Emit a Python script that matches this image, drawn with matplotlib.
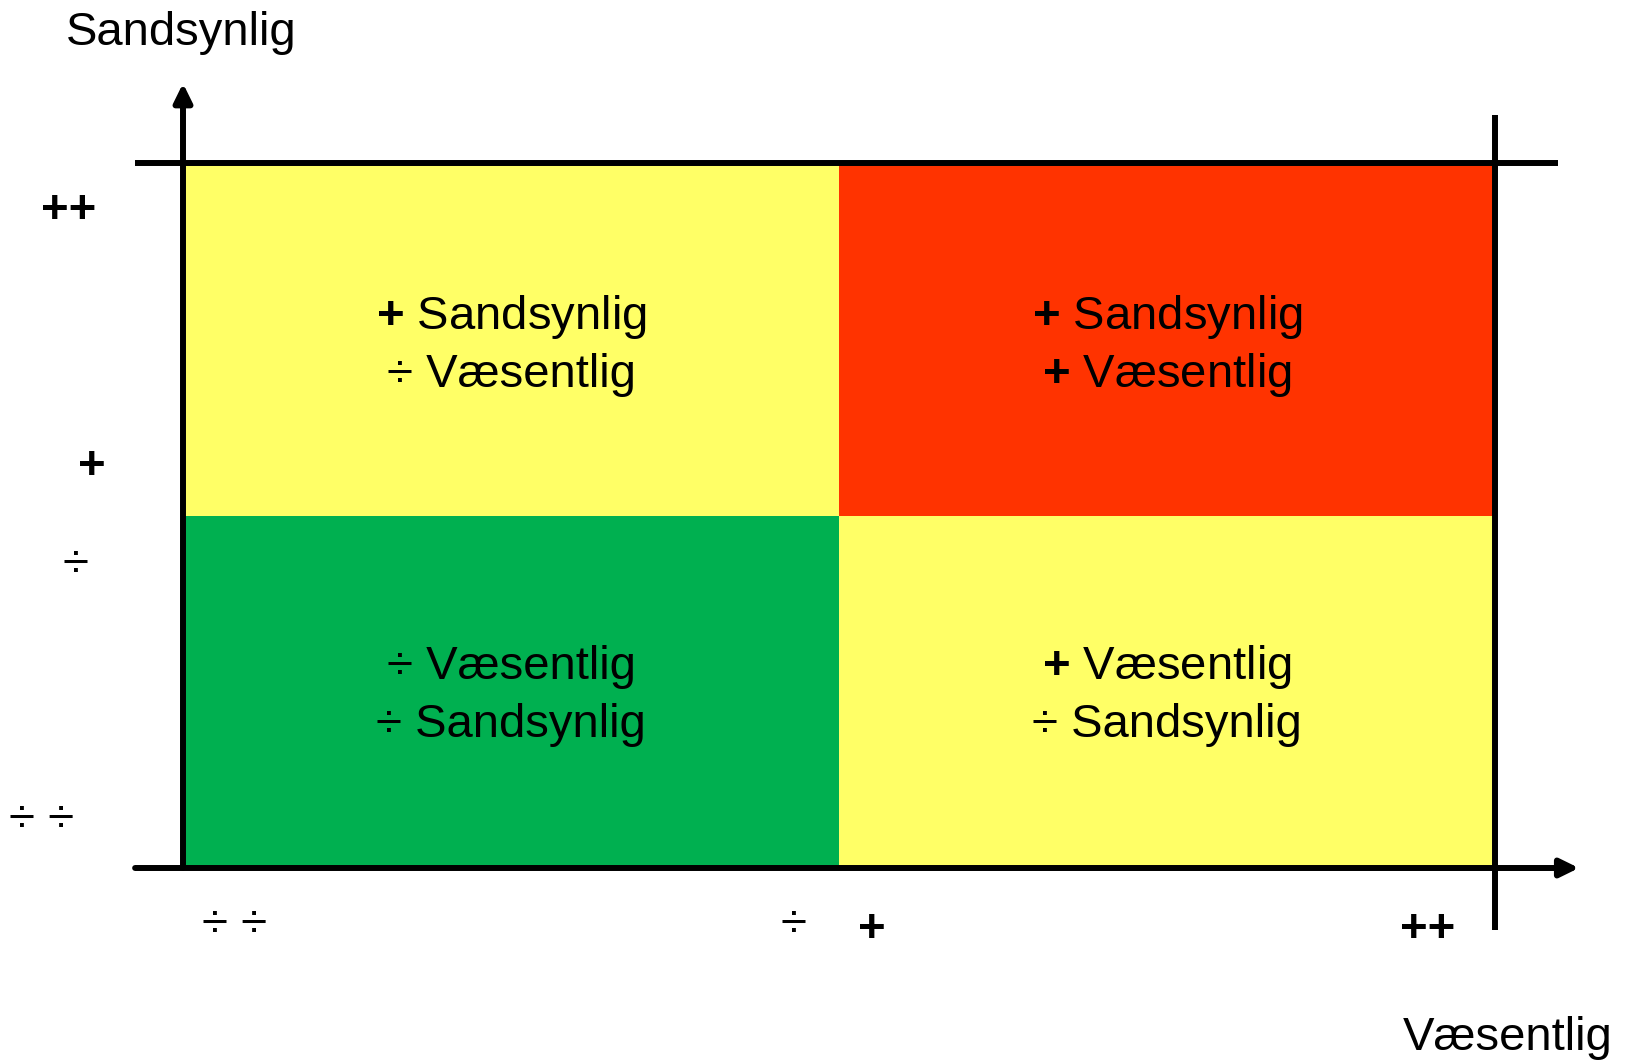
import matplotlib.pyplot as plt
from matplotlib.patches import Rectangle

plt.rcParams['font.family'] = ['Liberation Sans', 'DejaVu Sans']
plt.rcParams['mathtext.fontset'] = 'custom'
plt.rcParams['mathtext.rm'] = 'Liberation Sans'
plt.rcParams['mathtext.bf'] = 'Liberation Sans:bold'

# kvadranter: raekke 0 = lav sandsynlighed, kolonne 0 = lav vaesentlighed
quad_colors = [['#00B050', '#FFFF66'],
               ['#FFFF66', '#FF3300']]
quad_labels = [[('÷ Væsentlig', '÷ Sandsynlig'), ('+ Væsentlig', '÷ Sandsynlig')],
               [('+ Sandsynlig', '÷ Væsentlig'), ('+ Sandsynlig', '+ Væsentlig')]]

# skala-markeringer langs akserne (tekst, x, y)
y_marks = [('++', -0.174, 1.830), ('+', -0.139, 1.104),
           ('÷', -0.164, 0.826), ('÷ ÷', -0.215, 0.102)]
x_marks = [('÷ ÷', 0.079, -0.196), ('÷', 0.931, -0.196),
           ('+', 1.050, -0.210), ('++', 1.898, -0.210)]


def fmt(label):
    # plus-tegnet er fedt i originalen
    if label.startswith('+ '):
        return r'$\mathbf{+}$ ' + label[2:]
    return label


W, H = 1632, 1061
fig = plt.figure(figsize=(W / 100, H / 100), dpi=100)
ax = fig.add_axes([183 / W, (H - 868) / H, (1495 - 183) / W, (868 - 163) / H])
ax.set_xlim(0, 2)
ax.set_ylim(0, 2)
ax.axis('off')

fs = 34
lw = 4.3

for r in range(2):
    for c in range(2):
        ax.add_patch(Rectangle((c, r), 1, 1, facecolor=quad_colors[r][c],
                               edgecolor='none', zorder=1))
        line1, line2 = quad_labels[r][c]
        dy = -0.008 if r == 1 else 0.0
        ax.text(c + 0.5, r + 0.537 + dy, fmt(line1), ha='center', va='baseline', fontsize=fs, zorder=3)
        ax.text(c + 0.5, r + 0.373 + dy, fmt(line2), ha='center', va='baseline', fontsize=fs, zorder=3)

# rammelinjer
ax.plot([-0.073, 2.096], [2, 2], color='black', lw=lw, solid_capstyle='butt',
        clip_on=False, zorder=2)
ax.plot([2, 2], [-0.176, 2.136], color='black', lw=lw, solid_capstyle='butt',
        clip_on=False, zorder=2)

# akser med pile
arrow = dict(arrowstyle='-|>,head_length=0.55,head_width=0.27', lw=lw,
             color='black', mutation_scale=20, shrinkA=0, shrinkB=0)
ax.annotate('', xy=(0, 2.226), xytext=(0, 0), arrowprops=arrow,
            annotation_clip=False, zorder=2)
ax.annotate('', xy=(2.128, 0), xytext=(-0.073, 0), arrowprops=arrow,
            annotation_clip=False, zorder=2)

for txt, x, y in y_marks + x_marks:
    weight = 'bold' if '+' in txt else 'normal'
    ax.text(x, y, txt, ha='center', va='baseline', fontsize=fs, fontweight=weight)

ax.text(-0.003, 2.335, 'Sandsynlig', ha='center', va='baseline', fontsize=fs)
ax.text(2.020, -0.516, 'Væsentlig', ha='center', va='baseline', fontsize=fs)

fig.savefig('out.png', dpi=100)
